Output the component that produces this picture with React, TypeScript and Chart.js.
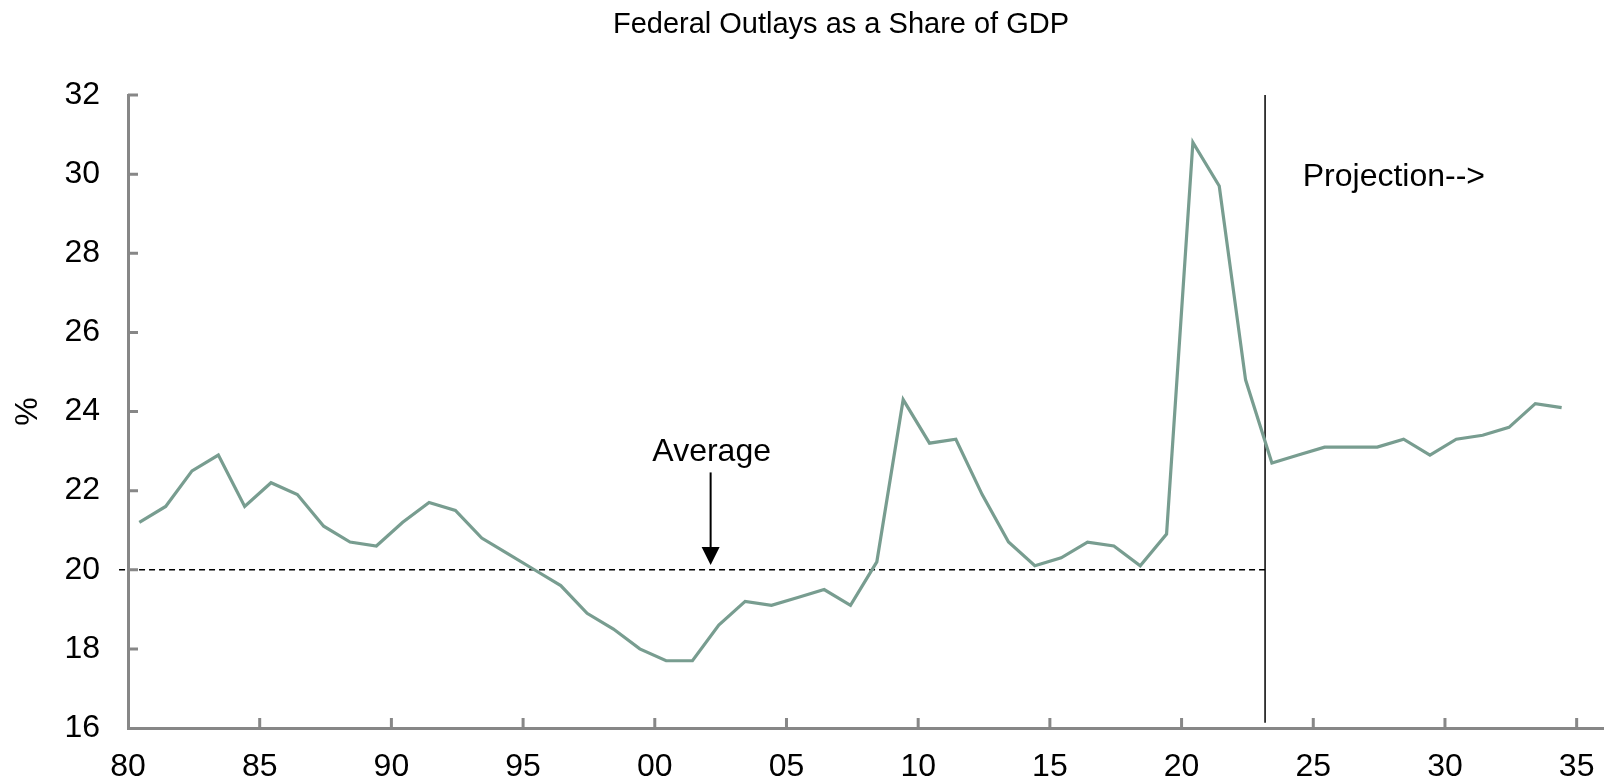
import React, { useEffect, useRef } from "react";
import { Chart, registerables } from "chart.js";

Chart.register(...registerables);

// ---- Data ----
const YEARS = [
  1980, 1981, 1982, 1983, 1984, 1985, 1986, 1987, 1988, 1989,
  1990, 1991, 1992, 1993, 1994, 1995, 1996, 1997, 1998, 1999,
  2000, 2001, 2002, 2003, 2004, 2005, 2006, 2007, 2008, 2009,
  2010, 2011, 2012, 2013, 2014, 2015, 2016, 2017, 2018, 2019,
  2020, 2021, 2022, 2023, 2024, 2025, 2026, 2027, 2028, 2029,
  2030, 2031, 2032, 2033, 2034,
];

const OUTLAYS_PCT_GDP = [
  21.2, 21.6, 22.5, 22.9, 21.6, 22.2, 21.9, 21.1, 20.7, 20.6,
  21.2, 21.7, 21.5, 20.8, 20.4, 20.0, 19.6, 18.9, 18.5, 18.0,
  17.7, 17.7, 18.6, 19.2, 19.1, 19.3, 19.5, 19.1, 20.2, 24.3,
  23.2, 23.3, 21.9, 20.7, 20.1, 20.3, 20.7, 20.6, 20.1, 20.9,
  30.8, 29.7, 24.8, 22.7, 22.9, 23.1, 23.1, 23.1, 23.3, 22.9,
  23.3, 23.4, 23.6, 24.2, 24.1,
];

const X_TICKS = [1980, 1985, 1990, 1995, 2000, 2005, 2010, 2015, 2020, 2025, 2030, 2035];
const Y_TICKS = [16, 18, 20, 22, 24, 26, 28, 30, 32];

const X_MIN = 1980;
const X_MAX = 2036;
const Y_MIN = 16;
const Y_MAX = 32;

// fiscal-year points are plotted a little inside each year
const POINT_OFFSET = 0.43;

const AVERAGE = 20;
const AVERAGE_FROM = 1979.66;
const PROJECTION_START = 2023.17;

const AVG_LABEL = "Average";
const AVG_LABEL_POS = { x: 2002.16, y: 22.76 };
const AVG_ARROW = { x: 2002.12, from: 22.46, to: 20.12 };
const PROJ_LABEL = "Projection-->";
const PROJ_LABEL_POS = { x: 2024.6, y: 29.71 };

const TITLE = "Federal Outlays as a Share of GDP";
const Y_TITLE = "%";

// ---- Styles ----
const FONT = "'Liberation Sans', Arial, Helvetica, sans-serif";
const LINE_COLOR = "#789d90";
const AXIS_COLOR = "#878787";
const W = 1606;
const H = 784;

const annotationPlugin = {
  id: "annotations",
  afterDraw(chart: any) {
    const { ctx, chartArea } = chart;
    const x = chart.scales.x;
    const y = chart.scales.y;
    ctx.save();

    // inward tick marks
    ctx.strokeStyle = AXIS_COLOR;
    ctx.lineWidth = 3;
    ctx.beginPath();
    Y_TICKS.forEach((v) => {
      if (v === Y_MIN) return;
      const py = y.getPixelForValue(v);
      ctx.moveTo(chartArea.left, py);
      ctx.lineTo(chartArea.left + 10, py);
    });
    X_TICKS.forEach((v) => {
      if (v === X_MIN) return;
      const px = x.getPixelForValue(v);
      ctx.moveTo(px, chartArea.bottom);
      ctx.lineTo(px, chartArea.bottom - 10);
    });
    ctx.stroke();

    // average arrow
    const ax = x.getPixelForValue(AVG_ARROW.x);
    const ay1 = y.getPixelForValue(AVG_ARROW.from);
    const ay2 = y.getPixelForValue(AVG_ARROW.to);
    ctx.strokeStyle = "#000";
    ctx.fillStyle = "#000";
    ctx.lineWidth = 2;
    ctx.beginPath();
    ctx.moveTo(ax, ay1);
    ctx.lineTo(ax, ay2 - 14);
    ctx.stroke();
    ctx.beginPath();
    ctx.moveTo(ax - 9, ay2 - 18);
    ctx.lineTo(ax + 9, ay2 - 18);
    ctx.lineTo(ax, ay2);
    ctx.closePath();
    ctx.fill();

    // texts
    ctx.fillStyle = "#000";
    ctx.font = `32px ${FONT}`;
    ctx.textBaseline = "alphabetic";
    ctx.textAlign = "center";
    ctx.fillText(AVG_LABEL, x.getPixelForValue(AVG_LABEL_POS.x), y.getPixelForValue(AVG_LABEL_POS.y));
    ctx.textAlign = "left";
    ctx.fillText(PROJ_LABEL, x.getPixelForValue(PROJ_LABEL_POS.x), y.getPixelForValue(PROJ_LABEL_POS.y));

    // title
    ctx.font = `29px ${FONT}`;
    ctx.textAlign = "center";
    ctx.fillText(TITLE, 841, 33);

    ctx.restore();
  },
};

export default function App() {
  const canvasRef = useRef<HTMLCanvasElement | null>(null);

  useEffect(() => {
    const canvas = canvasRef.current;
    if (!canvas) return;

    const series = YEARS.map((yr, i) => ({ x: yr + POINT_OFFSET, y: OUTLAYS_PCT_GDP[i] }));

    const chart = new Chart(canvas, {
      type: "line",
      data: {
        datasets: [
          {
            label: "Federal outlays (% of GDP)",
            data: series,
            borderColor: LINE_COLOR,
            borderWidth: 3.2,
            pointRadius: 0,
            tension: 0,
            fill: false,
          },
          {
            label: "Average",
            data: [
              { x: AVERAGE_FROM, y: AVERAGE },
              { x: PROJECTION_START, y: AVERAGE },
            ],
            borderColor: "#000",
            borderWidth: 1.5,
            borderDash: [6, 4],
            pointRadius: 0,
            clip: false as any,
            fill: false,
          },
          {
            label: "Projection start",
            data: [
              { x: PROJECTION_START, y: 16.13 },
              { x: PROJECTION_START, y: Y_MAX },
            ],
            borderColor: "#000",
            borderWidth: 1.5,
            pointRadius: 0,
            fill: false,
          },
        ],
      },
      options: {
        responsive: false,
        animation: false,
        layout: { padding: { left: 0, right: 3, top: 95, bottom: 0 } },
        plugins: {
          legend: { display: false },
          tooltip: { enabled: false },
          title: { display: false },
        },
        scales: {
          x: {
            type: "linear",
            min: X_MIN,
            max: X_MAX,
            afterFit: (s: any) => {
              s.height = 56;
            },
            afterBuildTicks: (s: any) => {
              s.ticks = X_TICKS.map((v) => ({ value: v }));
            },
            grid: {
              display: true,
              drawOnChartArea: false,
              drawTicks: true,
              tickLength: 20,
              tickColor: "rgba(0,0,0,0)",
            },
            border: { display: true, color: AXIS_COLOR, width: 3 },
            ticks: {
              autoSkip: false,
              maxRotation: 0,
              padding: 0,
              color: "#000",
              font: { family: FONT, size: 32 },
              callback: (v: any) => String(Number(v) % 100).padStart(2, "0"),
            },
          },
          y: {
            type: "linear",
            min: Y_MIN,
            max: Y_MAX,
            afterFit: (s: any) => {
              s.width = 128;
            },
            afterBuildTicks: (s: any) => {
              s.ticks = Y_TICKS.map((v) => ({ value: v }));
            },
            grid: { display: true, drawOnChartArea: false, drawTicks: false },
            border: { display: true, color: AXIS_COLOR, width: 3 },
            title: {
              display: true,
              text: Y_TITLE,
              color: "#000",
              font: { family: FONT, size: 32 },
              padding: { top: 9, bottom: 0 },
            },
            ticks: {
              padding: 28,
              color: "#000",
              font: { family: FONT, size: 32 },
            },
          },
        },
      },
      plugins: [annotationPlugin],
    });

    return () => chart.destroy();
  }, []);

  return (
    <div style={{ position: "fixed", left: 0, top: 0, width: W, height: H, background: "#fff" }}>
      <canvas ref={canvasRef} width={W} height={H} style={{ display: "block", width: W, height: H }} />
    </div>
  );
}
